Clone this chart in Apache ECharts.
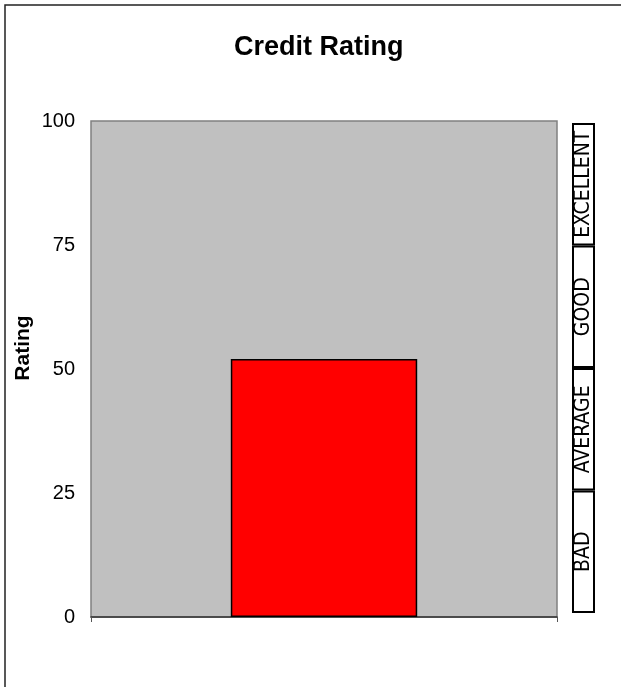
<!DOCTYPE html>
<html><head><meta charset="utf-8">
<script src="https://cdn.jsdelivr.net/npm/echarts@6/dist/echarts.min.js"></script>
<style>html,body{margin:0;padding:0;background:#fff}#c{width:621px;height:687px}</style>
</head><body><div id="c"></div>
<script>
const categories = ['Rating'];
const ratingValues = [52];
const yTicks = [0, 25, 50, 75, 100];
const bandNames = ['BAD', 'AVERAGE', 'GOOD', 'EXCELLENT'];
const bandSizes = [25, 25, 25, 25];

const chart = echarts.init(document.getElementById('c'), null, {renderer: 'canvas'});
const font = 'Liberation Sans, Arial, sans-serif';
const bandSeries = bandNames.map((n, i) => ({
  type: 'bar', xAxisIndex: 1, yAxisIndex: 1, stack: 'band', barWidth: '100%',
  data: [bandSizes[i]], silent: true,
  itemStyle: {color: '#fff', borderColor: '#000', borderWidth: 2},
  label: {show: true, position: 'inside', rotate: 90, formatter: n,
    fontFamily: 'DejaVu Sans Condensed, DejaVu Sans', fontSize: 21, color: '#000'}
}));
chart.setOption({
  animation: false,
  title: {text: 'Credit Rating', left: 229, top: 29,
    textStyle: {fontFamily: font, fontWeight: 'bold', fontSize: 27, color: '#000'}},
  graphic: [{type: 'rect', shape: {x: 5, y: 5, width: 700, height: 800},
    style: {fill: 'none', stroke: '#222', lineWidth: 1.5}, silent: true, z: -10}],
  grid: [
    {left: 91, top: 121, width: 466, height: 496, show: true,
      backgroundColor: '#c0c0c0', borderColor: '#808080', borderWidth: 1.5},
    {left: 572, top: 123, width: 23, height: 490}
  ],
  xAxis: [
    {type: 'category', gridIndex: 0, data: categories,
      axisLine: {lineStyle: {color: '#333', width: 1.5}},
      axisTick: {show: true, length: 5, lineStyle: {color: '#555'}},
      axisLabel: {show: false}},
    {type: 'category', gridIndex: 1, data: ['b'], show: false}
  ],
  yAxis: [
    {type: 'value', gridIndex: 0, min: 0, max: 100, interval: 25,
      name: 'Rating', nameLocation: 'middle', nameGap: 57, nameRotate: 90,
      nameMoveOverlap: false,
      nameTextStyle: {fontFamily: font, fontWeight: 'bold', fontSize: 21, color: '#000',
        padding: [0, 0, 0, 42]},
      axisLine: {show: false}, axisTick: {show: false}, splitLine: {show: false},
      axisLabel: {fontFamily: font, fontSize: 20, color: '#000', margin: 16,
        formatter: v => yTicks.includes(v) ? String(v) : ''}},
    {type: 'value', gridIndex: 1, min: 0, max: 100, show: false}
  ],
  series: [
    {type: 'bar', xAxisIndex: 0, yAxisIndex: 0, data: ratingValues, barWidth: '40%',
      itemStyle: {color: '#ff0000', borderColor: '#000', borderWidth: 1.5}}
  ].concat(bandSeries)
});
</script></body></html>
